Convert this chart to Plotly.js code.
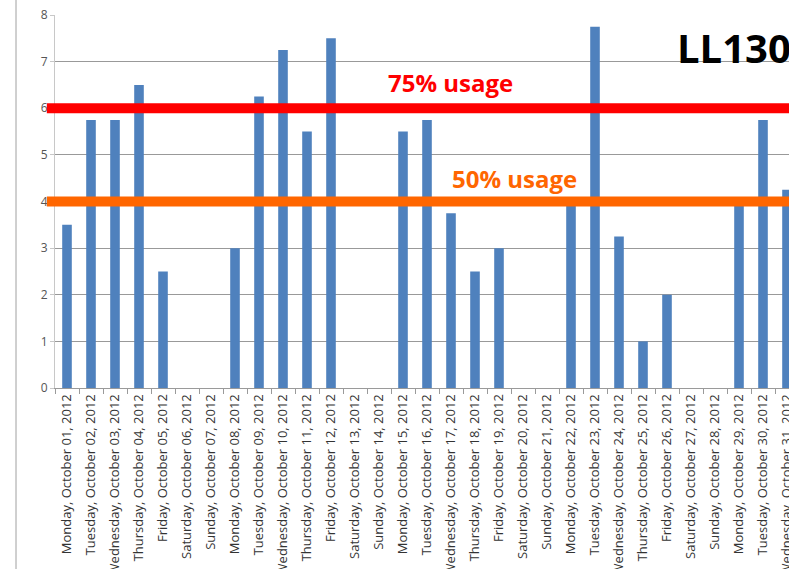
<!DOCTYPE html>
<html>
<head>
<meta charset="utf-8">
<script src="https://cdn.plot.ly/plotly-3.0.1.min.js"></script>
<style>
html,body{margin:0;padding:0;overflow:hidden;background:#fff;}
#chart{width:810px;height:569px;}
</style>
</head>
<body>
<div id="chart"></div>
<script>
const categories = [
"Monday, October 01, 2012","Tuesday, October 02, 2012","Wednesday, October 03, 2012","Thursday, October 04, 2012","Friday, October 05, 2012","Saturday, October 06, 2012","Sunday, October 07, 2012",
"Monday, October 08, 2012","Tuesday, October 09, 2012","Wednesday, October 10, 2012","Thursday, October 11, 2012","Friday, October 12, 2012","Saturday, October 13, 2012","Sunday, October 14, 2012",
"Monday, October 15, 2012","Tuesday, October 16, 2012","Wednesday, October 17, 2012","Thursday, October 18, 2012","Friday, October 19, 2012","Saturday, October 20, 2012","Sunday, October 21, 2012",
"Monday, October 22, 2012","Tuesday, October 23, 2012","Wednesday, October 24, 2012","Thursday, October 25, 2012","Friday, October 26, 2012","Saturday, October 27, 2012","Sunday, October 28, 2012",
"Monday, October 29, 2012","Tuesday, October 30, 2012","Wednesday, October 31, 2012"
];
const usage = [3.5,5.75,5.75,6.5,2.5,0,0, 3,6.25,7.25,5.5,7.5,0,0, 5.5,5.75,3.75,2.5,3,0,0, 4,7.75,3.25,1,2,0,0, 4,5.75,4.25];
const yTicks = [0,1,2,3,4,5,6,7,8];
const level75 = 6;
const level50 = 4;
const label75 = "75% usage";
const label50 = "50% usage";
const chartName = "LL130";

const trace = {
  type: 'bar',
  x: categories,
  y: usage,
  marker: {color: '#4F81BD'},
  hoverinfo: 'x+y'
};

const layout = {
  width: 810, height: 569,
  margin: {l: 55, r: 11, t: 15, b: 181},
  paper_bgcolor: '#ffffff', plot_bgcolor: '#ffffff',
  showlegend: false,
  bargap: 0.6,
  xaxis: {
    type: 'category',
    tickangle: -90,
    tickfont: {family: 'Open Sans, sans-serif', size: 13, color: '#333333'},
    showline: true, linecolor: '#9a9a9a', linewidth: 1,
    ticks: 'outside', ticklen: 5, tickcolor: '#9a9a9a', tickson: 'boundaries',
    showgrid: false, automargin: false
  },
  yaxis: {
    range: [0, 8],
    tickvals: yTicks,
    tickfont: {family: 'Open Sans, sans-serif', size: 12, color: '#555555'},
    showline: true, linecolor: '#c8c8c8', linewidth: 1,
    ticks: 'outside', ticklen: 4, tickcolor: '#c8c8c8',
    showgrid: true, gridcolor: '#999999', gridwidth: 1,
    zeroline: false, automargin: false
  },
  shapes: [
    {type: 'line', xref: 'paper', yref: 'y', x0: -0.011, x1: 1, y0: level75, y1: level75,
     line: {color: '#FF0000', width: 10}},
    {type: 'line', xref: 'paper', yref: 'y', x0: -0.011, x1: 1, y0: level50, y1: level50,
     line: {color: '#FF6600', width: 10}},
    {type: 'line', xref: 'paper', yref: 'paper', x0: -0.0524, x1: -0.0524, y0: -0.5, y1: 1.1,
     line: {color: '#a0a0a0', width: 1}}
  ],
  annotations: [
    {text: '<b>' + label75 + '</b>', xref: 'paper', yref: 'y', x: 0.531, y: 6.55,
     showarrow: false, font: {family: 'Open Sans, sans-serif', size: 24, color: '#FF0000'}},
    {text: '<b>' + label50 + '</b>', xref: 'paper', yref: 'y', x: 0.617, y: 4.5,
     showarrow: false, font: {family: 'Open Sans, sans-serif', size: 24, color: '#FF6600'}},
    {text: '<b>' + chartName + '</b>', xref: 'paper', yref: 'y', x: 0.834, xanchor: 'left', y: 7.3,
     showarrow: false, font: {family: 'Open Sans, sans-serif', size: 40, color: '#000000'}}
  ]
};

Plotly.newPlot('chart', [trace], layout, {displayModeBar: false, staticPlot: true});
</script>
</body>
</html>
